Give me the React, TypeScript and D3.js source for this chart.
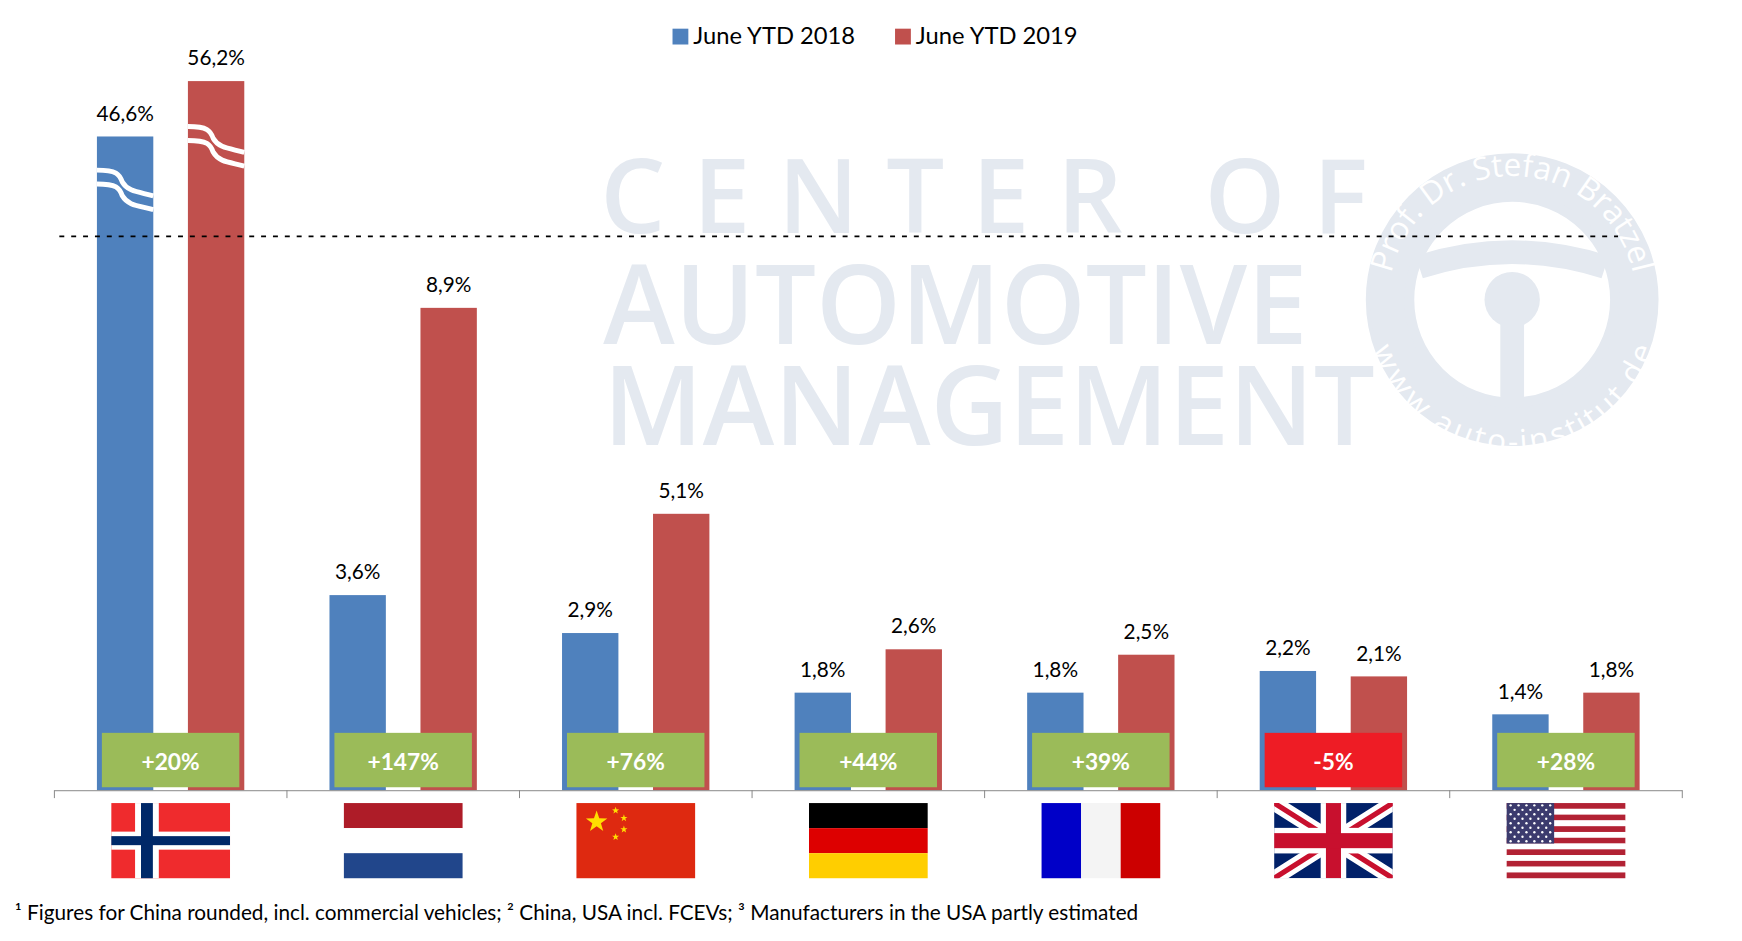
import React from "react";
import * as d3 from "d3";

const countries = ["NO", "NL", "CN", "DE", "FR", "GB", "US"];
const v2018 = [46.6, 3.6, 2.9, 1.8, 1.8, 2.2, 1.4];
const v2019 = [56.2, 8.9, 5.1, 2.6, 2.5, 2.1, 1.8];
const growth = ["+20%", "+147%", "+76%", "+44%", "+39%", "-5%", "+28%"];
const labels2018 = ["46,6%", "3,6%", "2,9%", "1,8%", "1,8%", "2,2%", "1,4%"];
const labels2019 = ["56,2%", "8,9%", "5,1%", "2,6%", "2,5%", "2,1%", "1,8%"];

const BLUE = "#4F81BD", RED = "#C0504D", GREEN = "#9BBB59", NEG = "#EE1C25", WM = "#E4E9F0";
const FONT = "Lato, 'Open Sans', sans-serif";

function Flag({ c, x, y, w, h }: { c: string; x: number; y: number; w: number; h: number }) {
  if (c === "NO") {
    const vx = x + w * 0.3, cw = w * 0.1, cy = y + h / 2;
    return <g>
      <rect x={x} y={y} width={w} height={h} fill="#EF2B2D" />
      <rect x={vx - cw} y={y} width={cw * 2} height={h} fill="#fff" />
      <rect x={x} y={cy - h * 0.12} width={w} height={h * 0.24} fill="#fff" />
      <rect x={vx - cw / 2} y={y} width={cw} height={h} fill="#002868" />
      <rect x={x} y={cy - h * 0.06} width={w} height={h * 0.12} fill="#002868" />
    </g>;
  }
  if (c === "NL") return <g>
    <rect x={x} y={y} width={w} height={h / 3} fill="#AE1C28" />
    <rect x={x} y={y + h / 3} width={w} height={h / 3} fill="#fff" />
    <rect x={x} y={y + 2 * h / 3} width={w} height={h / 3} fill="#21468B" />
  </g>;
  if (c === "CN") {
    const star = (cx: number, cy: number, r: number) => {
      const pts = d3.range(10).map(i => {
        const a = -Math.PI / 2 + i * Math.PI / 5, rr = i % 2 ? r * 0.4 : r;
        return [cx + rr * Math.cos(a), cy + rr * Math.sin(a)].join(",");
      }).join(" ");
      return <polygon points={pts} fill="#FFDE00" />;
    };
    return <g>
      <rect x={x} y={y} width={w} height={h} fill="#DE2910" />
      {star(x + w * 0.17, y + h * 0.25, h * 0.15)}
      {star(x + w * 0.33, y + h * 0.1, h * 0.05)}
      {star(x + w * 0.4, y + h * 0.2, h * 0.05)}
      {star(x + w * 0.4, y + h * 0.35, h * 0.05)}
      {star(x + w * 0.33, y + h * 0.45, h * 0.05)}
    </g>;
  }
  if (c === "DE") return <g>
    <rect x={x} y={y} width={w} height={h / 3} fill="#000" />
    <rect x={x} y={y + h / 3} width={w} height={h / 3} fill="#DD0000" />
    <rect x={x} y={y + 2 * h / 3} width={w} height={h / 3} fill="#FFCE00" />
  </g>;
  if (c === "FR") return <g>
    <rect x={x} y={y} width={w / 3} height={h} fill="#0000C8" />
    <rect x={x + w / 3} y={y} width={w / 3} height={h} fill="#F4F4F4" />
    <rect x={x + 2 * w / 3} y={y} width={w / 3} height={h} fill="#CC0000" />
  </g>;
  if (c === "GB") return <g>
    <clipPath id="gbclip"><rect x={x} y={y} width={w} height={h} /></clipPath>
    <g clipPath="url(#gbclip)">
      <rect x={x} y={y} width={w} height={h} fill="#012169" />
      <path d={`M${x},${y}L${x + w},${y + h}M${x + w},${y}L${x},${y + h}`} stroke="#fff" strokeWidth={h * 0.2} />
      <path d={`M${x},${y}L${x + w},${y + h}M${x + w},${y}L${x},${y + h}`} stroke="#C8102E" strokeWidth={h * 0.07} />
      <rect x={x + w / 2 - h * 0.17} y={y} width={h * 0.34} height={h} fill="#fff" />
      <rect x={x} y={y + h / 2 - h * 0.17} width={w} height={h * 0.34} fill="#fff" />
      <rect x={x + w / 2 - h * 0.1} y={y} width={h * 0.2} height={h} fill="#C8102E" />
      <rect x={x} y={y + h / 2 - h * 0.1} width={w} height={h * 0.2} fill="#C8102E" />
    </g>
  </g>;
  const sh = h / 13;
  return <g>
    {d3.range(13).map(i => <rect key={i} x={x} y={y + i * sh} width={w} height={sh} fill={i % 2 ? "#fff" : "#B22234"} />)}
    <rect x={x} y={y} width={w * 0.4} height={sh * 7} fill="#3C3B6E" />
    {d3.range(9).flatMap(r => d3.range(r % 2 ? 5 : 6).map(k =>
      <circle key={r + "-" + k} cx={x + w * 0.4 * ((k + (r % 2 ? 1 : 0.5)) / 6)} cy={y + sh * 7 * ((r + 0.5) / 9)} r={1.2} fill="#fff" />))}
  </g>;
}

export default function App() {
  const W = 1742, H = 941;
  const base = 799;
  const x0 = d3.scaleBand().domain(countries).range([55, 1701]).padding(0);
  const y = d3.scaleLinear().domain([0, 10]).range([base, base - 548]);
  const yBreak = d3.scaleLinear().domain([46.6, 56.2]).range([138, 82]);
  const bw = 57;
  const pos = (v: number, i: number) => (i === 0 ? yBreak(v) : y(v));
  const wave = (xa: number, yy: number) => {
    const w = bw;
    return `M${xa},${yy}C${xa + w * 0.35},${yy} ${xa + w * 0.4},${yy + 4} ${xa + w * 0.45},${yy + 12}C${xa + w * 0.55},${yy + 22} ${xa + w * 0.75},${yy + 22} ${xa + w},${yy + 26}`;
  };
  return (
    <svg width={W} height={H} style={{ display: "block", position: "absolute", left: 0, top: 0 }} fontFamily={FONT}>
      <rect width={W} height={H} fill="#fff" />
      <g transform="scale(0.989)">
      {/* watermark */}
      <g fill={WM} fontFamily="'Open Sans', sans-serif" fontWeight={600}>
        <text x={607} y={236} fontSize={104} textLength={776} lengthAdjust="spacing">CENTER OF</text>
        <text x={610} y={348} fontSize={112} textLength={712} lengthAdjust="spacingAndGlyphs">AUTOMOTIVE</text>
        <text x={610} y={450} fontSize={112} textLength={780} lengthAdjust="spacingAndGlyphs">MANAGEMENT</text>
      </g>
      <g fill="none" stroke={WM}>
        <circle cx={1529} cy={303} r={146} strokeWidth={4} fill={WM} />
        <circle cx={1529} cy={303} r={104} fill="#fff" stroke="none" />
        <circle cx={1529} cy={303} r={104} strokeWidth={10} />
        <circle cx={1529} cy={303} r={28} fill={WM} stroke="none" />
        <path d="M1435,270 Q1529,240 1623,270 M1529,303 L1529,405" strokeWidth={24} />
        <defs>
          <path id="arcTop" d="M1404,303 A125,125 0 0 1 1654,303" />
          <path id="arcBot" d="M1410,330 A122,122 0 0 0 1650,330" />
        </defs>
        <text fill="#fff" stroke="none" fontSize={32} fontFamily="'Open Sans', sans-serif"><textPath href="#arcTop" startOffset="50%" textAnchor="middle">Prof. Dr. Stefan Bratzel</textPath></text>
        <text fill="#fff" stroke="none" fontSize={32} fontFamily="'Open Sans', sans-serif"><textPath href="#arcBot" startOffset="50%" textAnchor="middle" dominantBaseline="hanging">www.auto-institut.de</textPath></text>
      </g>
      {/* legend */}
      <rect x={680} y={29} width={16} height={16} fill={BLUE} />
      <text x={701} y={44} fontSize={24}>June YTD 2018</text>
      <rect x={905} y={29} width={16} height={16} fill={RED} />
      <text x={926} y={44} fontSize={24}>June YTD 2019</text>
      {/* bars */}
      {countries.map((c, i) => {
        const gx = x0(c)!;
        const bx = gx + 43, rx = gx + 43 + bw + 35;
        const tb = pos(v2018[i], i), tr = pos(v2019[i], i);
        return <g key={c}>
          <rect x={bx} y={tb} width={bw} height={base - tb} fill={BLUE} />
          <rect x={rx} y={tr} width={bw} height={base - tr} fill={RED} />
          <text x={bx + bw / 2} y={tb - 16} textAnchor="middle" fontSize={21}>{labels2018[i]}</text>
          <text x={rx + bw / 2} y={tr - 16} textAnchor="middle" fontSize={21}>{labels2019[i]}</text>
          {i === 0 && <g stroke="#fff" strokeWidth={5} fill="none">
            <path d={wave(bx, 172)} /><path d={wave(bx, 186)} />
            <path d={wave(rx, 128)} /><path d={wave(rx, 142)} />
          </g>}
          <rect x={gx + 48} y={741} width={139} height={55} fill={growth[i].startsWith("-") ? NEG : GREEN} />
          <text x={gx + 48 + 69.5} y={779} textAnchor="middle" fontSize={23} fontWeight="bold" fill="#fff">{growth[i]}</text>
          <Flag c={c} x={gx + x0.bandwidth() / 2 - 60} y={812} w={120} h={76} />
        </g>;
      })}
      <line x1={60} x2={1636} y1={239} y2={239} stroke="#000" strokeWidth={2} strokeDasharray="5,7" />
      <line x1={55} x2={1701} y1={base + 0.5} y2={base + 0.5} stroke="#888" />
      {d3.range(8).map(k => {
        const tx = 55 + k * x0.bandwidth();
        return <line key={k} x1={tx} x2={tx} y1={base} y2={base + 8} stroke="#888" />;
      })}
      <text x={15} y={930} fontSize={21}>¹ Figures for China rounded, incl. commercial vehicles; ² China, USA incl. FCEVs; ³ Manufacturers in the USA partly estimated</text>
      </g>
    </svg>
  );
}
